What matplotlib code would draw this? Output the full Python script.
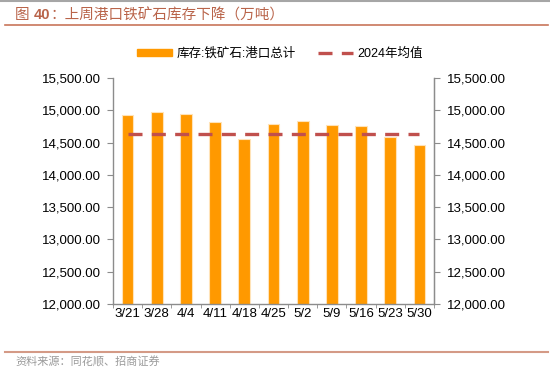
import matplotlib.pyplot as plt
from matplotlib.lines import Line2D
from matplotlib.patches import Patch
import numpy as np

plt.rcParams['font.family'] = ['Liberation Sans', 'Noto Sans CJK SC', 'DejaVu Sans']

# data
dates = ['3/21', '3/28', '4/4', '4/11', '4/18', '4/25', '5/2', '5/9', '5/16', '5/23', '5/30']
stock = [14922, 14978, 14947, 14822, 14552, 14781, 14840, 14766, 14750, 14588, 14466]
avg_2024 = 14640
y_ticks = np.arange(12000, 15501, 500)

bar_color = '#FF9900'
line_color = '#C0504D'
spine_color = '#8C8C8C'

fig = plt.figure(figsize=(5.5, 3.81), dpi=100)
ax = fig.add_axes([113 / 550, 1 - 304 / 381, 321 / 550, 226 / 381])

x = np.arange(len(dates))
ax.bar(x, stock, width=0.4, color=bar_color, edgecolor='#FFE3B8', linewidth=0.8, zorder=2)
ax.plot([x[0], x[-1]], [avg_2024, avg_2024], color=line_color, lw=2.4,
        dashes=(4.2, 2.8), zorder=3)

ax.set_xlim(-0.5, len(dates) - 0.5)
ax.set_ylim(12000, 15500)
ax.set_yticks(y_ticks)
ax.set_yticklabels([f'{v:,.2f}' for v in y_ticks], fontsize=9.5)
ax.set_xticks(x)
ax.set_xticklabels(dates, fontsize=9.5)
ax.tick_params(axis='x', length=0, pad=3)
# small tick marks between categories
ax.set_xticks(np.arange(-0.5, len(dates), 1), minor=True)
ax.tick_params(axis='x', which='minor', length=3, color=spine_color, direction='out')
ax.tick_params(axis='y', length=4, color=spine_color, direction='out', pad=5)

ax.spines['top'].set_visible(False)
for s in ['left', 'right', 'bottom']:
    ax.spines[s].set_color(spine_color)
    ax.spines[s].set_linewidth(1)

ax2 = ax.twinx()
ax2.set_ylim(12000, 15500)
ax2.set_yticks(y_ticks)
ax2.set_yticklabels([f'{v:,.2f}' for v in y_ticks], fontsize=9.5)
ax2.tick_params(axis='y', length=4, color=spine_color, direction='out', pad=5)
for s in ['top', 'left', 'bottom']:
    ax2.spines[s].set_visible(False)
ax2.spines['right'].set_color(spine_color)

handles = [Patch(color=bar_color, label='库存:铁矿石:港口总计'),
           Line2D([], [], color=line_color, lw=2.4, dashes=(4.2, 2.8), label='2024年均值')]
fig.legend(handles=handles, loc='center', bbox_to_anchor=(280 / 550, 1 - 54 / 381),
           ncol=2, frameon=False, fontsize=9, handlelength=2.8, handleheight=0.55,
           columnspacing=1.8, handletextpad=0.35)

# title, rules and source
fig.add_artist(Line2D([0, 1], [1 - 0.5 / 381] * 2, color='#A6A6A6', lw=1.5))
t1 = fig.text(15 / 550, 1 - 15 / 381, '图 ', fontsize=10.5, color='#B9644A',
              va='center', ha='left')
fig.canvas.draw()
bb = t1.get_window_extent()
t2 = fig.text(bb.x1 / 550, 1 - 15 / 381, '40', fontsize=10.5, color='#B9644A',
              fontweight='bold', va='center', ha='left')
fig.canvas.draw()
bb = t2.get_window_extent()
fig.text(bb.x1 / 550, 1 - 15 / 381, '：上周港口铁矿石库存下降（万吨）', fontsize=10.5,
         color='#B9644A', va='center', ha='left')
fig.add_artist(Line2D([5 / 550, 548 / 550], [1 - 25 / 381] * 2, color='#C8765A', lw=1.2))
fig.add_artist(Line2D([5 / 550, 548 / 550], [1 - 352 / 381] * 2, color='#D49A86', lw=1.5))
fig.text(15 / 550, 1 - 362 / 381, '资料来源：同花顺、招商证券', fontsize=8,
         color='#9A9A9A', va='center', ha='left')

fig.savefig('out.png', dpi=100)
